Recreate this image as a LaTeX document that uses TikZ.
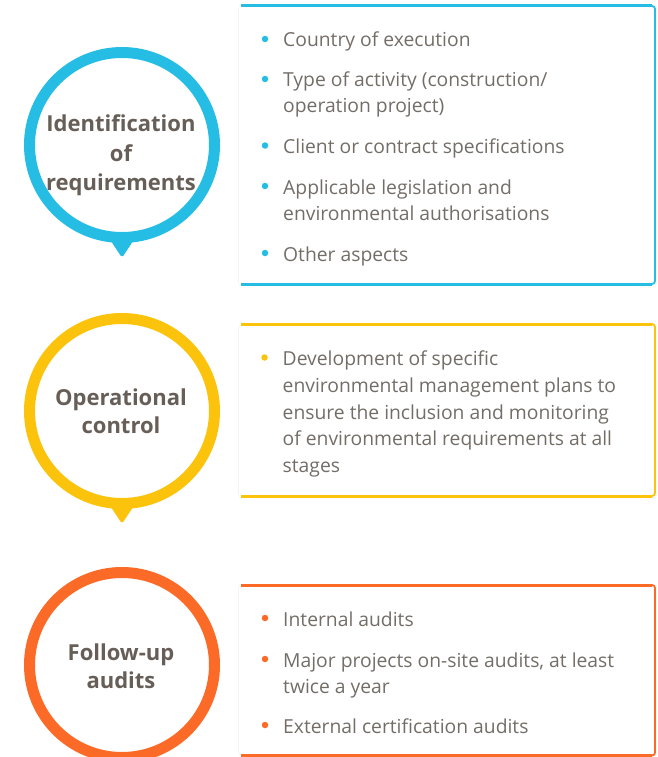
\documentclass[tikz,border=0pt]{standalone}
\usepackage{fontspec}
\setmainfont{Open Sans}
\newfontfamily\osfont{Open Sans}
\definecolor{cblue}{HTML}{25BDE3}
\definecolor{cyel}{HTML}{FBC30C}
\definecolor{cora}{HTML}{FB6A27}
\definecolor{titlegray}{HTML}{665E57}
\definecolor{txtgray}{HTML}{736D67}
\definecolor{faint}{HTML}{F3F3F3}
\tikzset{
  ringnode/.style={circle, draw=#1, line width=11pt, minimum size=185pt, inner sep=0pt},
  titleline/.style={anchor=base, inner sep=0pt, text=titlegray, font=\osfont\bfseries\fontsize{22}{26}\selectfont},
  itemline/.style={anchor=base west, inner sep=0pt, text=txtgray, font=\osfont\fontsize{19.3}{22}\selectfont},
  bulletdot/.style={circle, fill=#1, inner sep=0pt, minimum size=6.5pt},
  boxside/.style={draw=#1, line width=1.8pt, rounded corners=3pt},
  boxrule/.style={draw=#1, line width=3pt},
  shadowline/.style={draw=faint, line width=0.8pt},
}
\begin{document}
\begin{tikzpicture}[x=1pt, y=-1pt]
\useasboundingbox (0,0) rectangle (658,757);
\clip (0,0) rectangle (658,757);

% ---------- circles ----------
\node[ringnode=cblue] (c1) at (122,145) {};
\fill[cblue] (105,232) -- (139,232) -- (123.5,255.5) to[out=-120,in=-60] (120.5,255.5) -- cycle;
\node[ringnode=cyel] (c2) at (122,411) {};
\fill[cyel] (105,498) -- (139,498) -- (123.5,521.5) to[out=-120,in=-60] (120.5,521.5) -- cycle;
\node[ringnode=cora] (c3) at (122,665) {};

% ---------- titles ----------
\node[titleline] (t1a) at (121,131.7) {Identification};
\node[titleline] (t1b) at (121,161.3) {of};
\node[titleline] (t1c) at (121,190.3) {requirements};
\node[titleline] (t2a) at (121,405) {Operational};
\node[titleline] (t2b) at (121,433.5) {control};
\node[titleline] (t3a) at (121,660) {Follow-up};
\node[titleline] (t3b) at (121,688.5) {audits};

% ---------- boxes ----------
% box 1
\draw[shadowline] (238,8) -- (238,283);
\draw[boxside=cblue] (600,6) -- (655,6) -- (655,284) -- (600,284);
\draw[boxrule=cblue] (241,6) -- (652,6);
\draw[boxrule=cblue] (241,284) -- (652,284);
% box 2
\draw[shadowline] (238,326) -- (238,495);
\draw[boxside=cyel] (600,324) -- (655,324) -- (655,496) -- (600,496);
\draw[boxrule=cyel] (241,324) -- (652,324);
\draw[boxrule=cyel] (241,496) -- (652,496);
% box 3
\draw[shadowline] (238,587) -- (238,754);
\draw[boxside=cora] (600,585) -- (655,585) -- (655,755.5) -- (600,755.5);
\draw[boxrule=cora] (241,585) -- (652,585);
\draw[boxrule=cora] (241,755.5) -- (652,755.5);

% ---------- box 1 items ----------
\node[bulletdot=cblue] (b11) at (265,39) {};
\node[itemline] (l11) at (283,47) {Country of execution};
\node[bulletdot=cblue] (b12) at (265,79) {};
\node[itemline] (l12a) at (283,87) {Type of activity (construction/};
\node[itemline] (l12b) at (283,113) {operation project)};
\node[bulletdot=cblue] (b13) at (265,145.5) {};
\node[itemline] (l13) at (283,153.5) {Client or contract specifications};
\node[bulletdot=cblue] (b14) at (265,186) {};
\node[itemline] (l14a) at (283,194) {Applicable legislation and};
\node[itemline] (l14b) at (283,220) {environmental authorisations};
\node[bulletdot=cblue] (b15) at (265,253) {};
\node[itemline] (l15) at (283,261) {Other aspects};

% ---------- box 2 items ----------
\node[bulletdot=cyel] (b21) at (264.5,357.5) {};
\node[itemline] (l21a) at (282.5,365) {Development of specific};
\node[itemline] (l21b) at (282.5,392) {environmental management plans to};
\node[itemline] (l21c) at (282.5,419) {ensure the inclusion and monitoring};
\node[itemline] (l21d) at (282.5,445.5) {of environmental requirements at all};
\node[itemline] (l21e) at (282.5,472) {stages};

% ---------- box 3 items ----------
\node[bulletdot=cora] (b31) at (265,618) {};
\node[itemline] (l31) at (283,626) {Internal audits};
\node[bulletdot=cora] (b32) at (265,659) {};
\node[itemline] (l32a) at (283,667) {Major projects on-site audits, at least};
\node[itemline] (l32b) at (283,693) {twice a year};
\node[bulletdot=cora] (b33) at (265,725) {};
\node[itemline] (l33) at (283,733) {External certification audits};
\end{tikzpicture}
\end{document}
